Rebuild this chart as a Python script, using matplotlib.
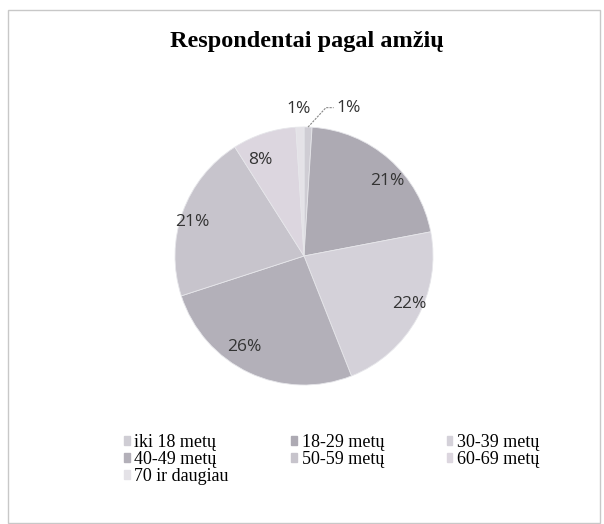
import numpy as np
import matplotlib.pyplot as plt
from matplotlib.patches import Rectangle, Patch

# ---------------- DATA ----------------
CATEGORIES = ["iki 18 metų", "18-29 metų", "30-39 metų", "40-49 metų",
              "50-59 metų", "60-69 metų", "70 ir daugiau"]
SHARES = [1, 21, 22, 26, 21, 8, 1]
COLORS = ["#cfcdd4", "#adaab3", "#d4d1d9", "#b3b0b9",
          "#c7c4cc", "#dcd6df", "#e4e2e7"]
TITLE = "Respondentai pagal amžių"

LABEL_FONT = dict(fontsize=12.5, family="Open Sans", color="#333333")

W, H = 604, 524
fig = plt.figure(figsize=(W / 100, H / 100), dpi=100)
fig.patch.set_facecolor("white")

# light frame around the chart
fig.add_artist(Rectangle((8 / W, 1 / H), 592 / W, (H - 11) / H,
                         transform=fig.transFigure, fill=False,
                         edgecolor="#c8c8c8", linewidth=1.0))

fig.text(307 / W, 1 - 42 / H, TITLE, ha="center", va="center",
         fontsize=17.5, fontweight="bold", family="Liberation Serif")

# pie axes: center (304, 256), radius ~129 px
cx, cy, r = 304, 256, 129
ax = fig.add_axes([(cx - r) / W, 1 - (cy + r) / H, 2 * r / W, 2 * r / H])
wedges, texts = ax.pie(SHARES, colors=COLORS, startangle=90, counterclock=False,
                       labels=[f"{v}%" for v in SHARES], labeldistance=0.78,
                       wedgeprops=dict(linewidth=0.6, edgecolor="#e6e6ea"),
                       textprops=LABEL_FONT)
ax.set_xlim(-1, 1)
ax.set_ylim(-1, 1)
ax.set_aspect("auto")

# small slices: labels outside
texts[0].set_visible(False)
texts[-1].set_visible(False)
ang0 = np.deg2rad((wedges[0].theta1 + wedges[0].theta2) / 2)
x0, y0 = np.cos(ang0), np.sin(ang0)
ax.plot([x0, 0.17, 0.23], [y0, 1.15, 1.15], color="#888888", lw=0.8,
        linestyle=(0, (2, 1)), clip_on=False)
ax.text(0.25, 1.15, f"{SHARES[0]}%", ha="left", va="center", **LABEL_FONT)
ang6 = np.deg2rad((wedges[-1].theta1 + wedges[-1].theta2) / 2)
ax.text(1.13 * np.cos(ang6) - 0.01, 1.13 * np.sin(ang6) + 0.01, f"{SHARES[-1]}%",
        ha="center", va="center", **LABEL_FONT)

# legend, row-major order in 3 columns
order = [0, 3, 6, 1, 4, 2, 5]
handles = [Patch(facecolor=COLORS[i], edgecolor=COLORS[i]) for i in order]
labels = [CATEGORIES[i] for i in order]
fig.legend(handles, labels, ncol=3, loc="upper left",
           bbox_to_anchor=(124 / W, 1 - 434 / H), frameon=False,
           prop=dict(family="Liberation Serif", size=13),
           handlelength=0.33, handleheight=0.33, handletextpad=0.25,
           columnspacing=3.45, labelspacing=0.0, borderpad=0, borderaxespad=0)

fig.savefig("out.png", dpi=100)
